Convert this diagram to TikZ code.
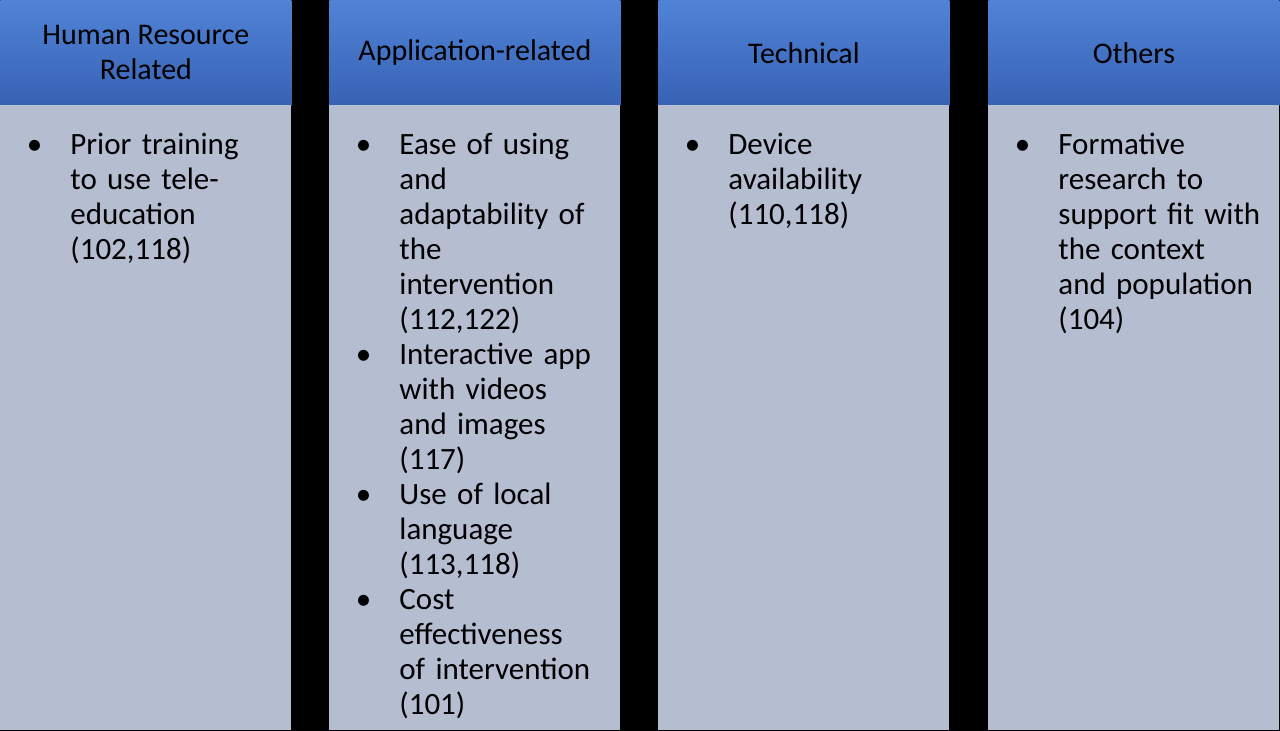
\documentclass[tikz,border=0pt]{standalone}
\usepackage{fontspec}
\setmainfont{Carlito}
\usepackage{enumitem}
\usetikzlibrary{positioning}
\definecolor{headtop}{HTML}{5083D6}
\definecolor{headbot}{HTML}{3762B4}
\definecolor{bodyfill}{HTML}{B5BDD1}
\tikzset{
  head/.style = {draw=none, top color=headtop, bottom color=headbot, minimum width=145.5pt, minimum height=52.5pt, anchor=north west, inner sep=0pt, align=center, font=\fontsize{15}{17.5}\selectfont},
  body/.style = {draw=none, fill=bodyfill, minimum width=145.5pt, minimum height=312.5pt, anchor=north west, inner sep=0pt},
  items/.style = {anchor=north west, text width=130pt, inner sep=0pt, align=left, font=\fontsize{15.5}{17.5}\selectfont}
}
\newcommand{\bulletlist}[1]{\begin{itemize}[leftmargin=24pt, labelsep=14pt, itemsep=0pt, topsep=0pt, parsep=0pt, partopsep=0pt]#1\end{itemize}}
\begin{document}
\begin{tikzpicture}[x=0.5pt, y=-0.5pt]
	\fill[black] (0,0) rectangle (1280,731);
	\useasboundingbox (0,0) rectangle (1280,731);

%% Headers
\node[head] (hr) at (0,0) {Human Resource\\Related};
\node[head] (app) at (329,0) {Application-related};
\node[head] (tech) at (658,0) {Technical};
\node[head] (oth) at (988,0) {Others};

%% Bodies
\node[body] (hrbody) at (0,105) {};
\node[body] (appbody) at (329,105) {};
\node[body] (techbody) at (658,105) {};
\node[body] (othbody) at (988,105) {};

%% Lists
\node[items] (hrlist) at (22,119) {\bulletlist{\item Prior training\newline to use tele-\newline education\newline (102,118)}};
\node[items] (applist) at (351,119) {\bulletlist{
	\item Ease of using\newline and\newline adaptability of\newline the\newline intervention\newline (112,122)
	\item Interactive app\newline with videos\newline and images\newline (117)
	\item Use of local\newline language\newline (113,118)
	\item Cost\newline effectiveness\newline of intervention\newline (101)}};
\node[items] (techlist) at (680,119) {\bulletlist{\item Device\newline availability\newline (110,118)}};
\node[items] (othlist) at (1010,119) {\bulletlist{\item Formative\newline research to\newline support fit with\newline the context\newline and population\newline (104)}};
\end{tikzpicture}
\end{document}
